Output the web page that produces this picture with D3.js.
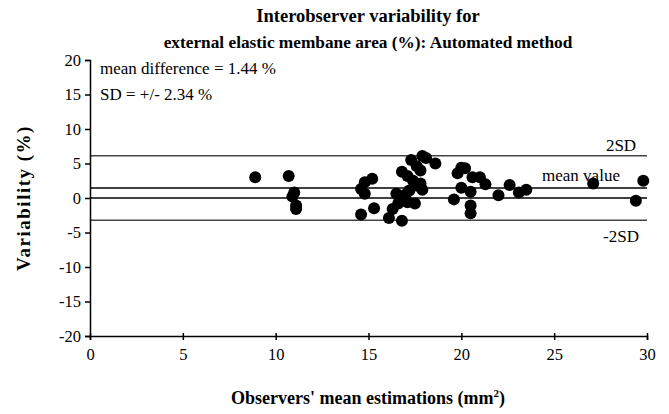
<!DOCTYPE html>
<html>
<head>
<meta charset="utf-8">
<script src="https://cdn.jsdelivr.net/npm/d3@7"></script>
<style>
  body { margin: 0; background: #fff; }
  text { font-family: "Liberation Serif", "Times New Roman", serif; fill: #000; }
</style>
</head>
<body>
<div id="chart"></div>
<script>
// observers' mean estimation (mm2) and variability (%)
const meanEst = [8.9, 10.7, 11.0, 10.9, 11.1, 11.1, 14.6, 14.8, 15.2, 14.8, 14.6, 15.3,
  16.1, 16.8, 16.5, 16.8, 17.1, 16.3, 17.0, 16.6, 16.8, 17.1, 17.3, 17.6, 17.4, 17.6,
  17.2, 17.5, 17.9, 18.1, 18.6, 17.8, 17.8, 17.9, 19.6, 19.8, 20.0, 20.2, 20.6, 21.0,
  21.3, 20.0, 20.5, 20.5, 20.5, 22.0, 22.6, 23.1, 23.5, 27.1, 29.8, 29.4];
const variability = [3.0, 3.2, 0.8, 0.2, -1.1, -1.6, 1.3, 2.3, 2.8, 0.6, -2.4, -1.5,
  -2.9, -3.3, 0.6, 0.0, -0.6, -1.6, 0.5, -0.8, 3.8, 3.2, 5.5, 4.6, 2.5, 1.8,
  1.1, -0.8, 6.1, 5.8, 5.0, 4.0, 2.1, 1.2, -0.2, 3.6, 4.4, 4.3, 3.0, 3.0,
  2.0, 1.5, 0.9, -1.1, -2.2, 0.4, 1.9, 0.8, 1.2, 2.1, 2.5, -0.4];

const meanDiff = 1.44;
const sd = 2.34;
const refLines = [
  { name: '2SD', value: meanDiff + 2 * sd },
  { name: 'mean value', value: meanDiff },
  { name: 'zero', value: 0 },
  { name: '-2SD', value: meanDiff - 2 * sd },
];
const xTicks = [0, 5, 10, 15, 20, 25, 30];
const yTicks = [-20, -15, -10, -5, 0, 5, 10, 15, 20];

const width = 669;
const height = 414;
const margin = { top: 60, right: 22, bottom: 78, left: 90 };

const x = d3.scaleLinear().domain([0, 30]).range([margin.left, width - margin.right]);
const y = d3.scaleLinear().domain([-20, 20]).range([height - margin.bottom, margin.top]);

const svg = d3.select('#chart')
  .append('svg')
  .attr('width', width)
  .attr('height', height);

// title
svg.append('text')
  .attr('x', 368)
  .attr('y', 22)
  .attr('text-anchor', 'middle')
  .style('font-size', '18.5px')
  .style('font-weight', 'bold')
  .text('Interobserver variability for');

svg.append('text')
  .attr('x', 368)
  .attr('y', 48)
  .attr('text-anchor', 'middle')
  .style('font-size', '17.3px')
  .style('font-weight', 'bold')
  .text('external elastic membane area (%): Automated method');

// reference lines
svg.append('g')
  .selectAll('line')
  .data(refLines)
  .enter()
  .append('line')
  .attr('x1', x(0))
  .attr('x2', x(30))
  .attr('y1', d => y(d.value))
  .attr('y2', d => y(d.value))
  .attr('stroke', d => (d.name === '2SD' || d.name === '-2SD') ? '#444' : '#000')
  .attr('stroke-width', 1.5);

// axes
const xAxis = svg.append('g')
  .attr('transform', `translate(0,${y(-20)})`)
  .call(d3.axisBottom(x).tickValues(xTicks).tickFormat(d => String(d)).tickSize(4).tickPadding(8));

const yAxis = svg.append('g')
  .attr('transform', `translate(${x(0)},0)`)
  .call(d3.axisLeft(y).tickValues(yTicks).tickFormat(d => String(d)).tickSize(5).tickPadding(4));

[xAxis, yAxis].forEach((ax) => {
  ax.attr('font-family', null);
  ax.select('.domain').attr('stroke', '#000').attr('stroke-width', 1.5);
  ax.selectAll('.tick line').attr('stroke', '#000').attr('stroke-width', 1.5);
  ax.selectAll('.tick text')
    .style('font-family', '"Liberation Serif", serif')
    .style('font-size', '16.5px')
    .attr('fill', '#000');
});
xAxis.selectAll('.tick line').attr('y1', -3);

// points
svg.append('g')
  .selectAll('circle')
  .data(meanEst.map((d, i) => [d, variability[i]]))
  .enter()
  .append('circle')
  .attr('cx', d => x(d[0]))
  .attr('cy', d => y(d[1]))
  .attr('r', 6)
  .attr('fill', '#000');

// line labels
svg.append('text').attr('x', 621).attr('y', 151).attr('text-anchor', 'middle')
  .style('font-size', '17px').text('2SD');
svg.append('text').attr('x', 581).attr('y', 181).attr('text-anchor', 'middle')
  .style('font-size', '17px').text('mean value');
svg.append('text').attr('x', 621).attr('y', 242).attr('text-anchor', 'middle')
  .style('font-size', '17px').text('-2SD');

// summary text
svg.append('text').attr('x', 100).attr('y', 74)
  .style('font-size', '17px').text(`mean difference = ${meanDiff} %`);
svg.append('text').attr('x', 100).attr('y', 100)
  .style('font-size', '17px').text(`SD = +/- ${sd} %`);

// axis titles
svg.append('text')
  .attr('transform', `translate(30,${y(0)}) rotate(-90)`)
  .attr('text-anchor', 'middle')
  .style('font-size', '19px')
  .style('font-weight', 'bold')
  .style('letter-spacing', '1.5px')
  .text('Variability (%)');

const xTitle = svg.append('text')
  .attr('x', 368)
  .attr('y', 404)
  .attr('text-anchor', 'middle')
  .style('font-size', '18px')
  .style('font-weight', 'bold');
xTitle.append('tspan').text("Observers' mean estimations (mm");
xTitle.append('tspan').attr('dy', -7).style('font-size', '11px').text('2');
xTitle.append('tspan').attr('dy', 7).text(')');
</script>
</body>
</html>
